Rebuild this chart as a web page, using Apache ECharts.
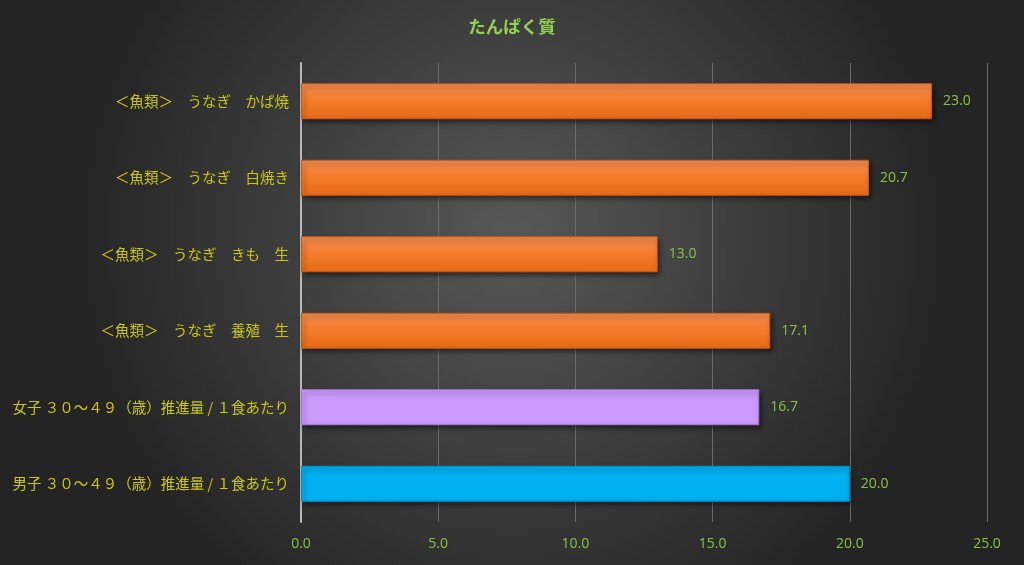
<!DOCTYPE html>
<html><head><meta charset="utf-8">
<script src="https://cdn.jsdelivr.net/npm/echarts@6/dist/echarts.min.js"></script>
<style>html,body{margin:0;padding:0;background:#333}#c{width:1024px;height:565px}</style>
</head><body><div id="c"></div>
<script>
const title = 'たんぱく質';
const categories = [
  '＜魚類＞　うなぎ　かば焼',
  '＜魚類＞　うなぎ　白焼き',
  '＜魚類＞　うなぎ　きも　生',
  '＜魚類＞　うなぎ　養殖　生',
  '女子 ３０～４９（歳）推進量 / １食あたり',
  '男子 ３０～４９（歳）推進量 / １食あたり'
];
const values = [23.0, 20.7, 13.0, 17.1, 16.7, 20.0];
const barKinds = ['fish', 'fish', 'fish', 'fish', 'female', 'male'];
const xTicks = [0, 5, 10, 15, 20, 25];

const orange = new echarts.graphic.LinearGradient(0, 0, 0, 1, [
  {offset: 0, color: '#f28c52'}, {offset: 0.5, color: '#f47b28'}, {offset: 1, color: '#e66a18'}]);
const colorFor = {fish: orange, female: '#cc99ff', male: '#00b0f0'};
const borderFor = {fish: '#c85a14', female: '#a87ad8', male: '#0090c8'};

const chart = echarts.init(document.getElementById('c'));
chart.setOption({
  backgroundColor: new echarts.graphic.RadialGradient(0.5, 0.42, 0.78, [
    {offset: 0, color: '#585858'}, {offset: 1, color: '#242424'}]),
  title: {
    text: title, left: 'center', top: 13,
    textStyle: {color: '#92d050', fontSize: 17.5, fontWeight: 'bold', fontFamily: 'Noto Sans CJK JP'}
  },
  grid: {left: 301, right: 37, top: 63, bottom: 43},
  xAxis: {
    type: 'value', min: xTicks[0], max: xTicks[xTicks.length - 1], interval: 5,
    axisLine: {show: false}, axisTick: {show: false},
    splitLine: {show: true, lineStyle: {color: '#6a6a6a', width: 1}},
    axisLabel: {color: '#8cc043', fontSize: 14, fontFamily: 'Open Sans', margin: 15,
      formatter: v => v.toFixed(1)}
  },
  yAxis: {
    type: 'category', data: categories, inverse: true,
    axisLine: {show: true, lineStyle: {color: '#b8b8b8', width: 2}},
    axisTick: {show: false},
    axisLabel: {color: '#c8c814', fontSize: 14.5, fontFamily: 'Noto Sans CJK JP', margin: 12}
  },
  series: [{
    type: 'bar', barWidth: 36,
    data: values.map((v, i) => ({
      value: v,
      itemStyle: {color: colorFor[barKinds[i]], borderColor: borderFor[barKinds[i]], borderWidth: 1,
        shadowColor: 'rgba(0,0,0,0.55)', shadowBlur: 5, shadowOffsetX: 2, shadowOffsetY: 3}
    })),
    label: {show: true, position: 'right', distance: 11, color: '#8cc043', fontSize: 14,
      fontFamily: 'Open Sans', formatter: p => p.value.toFixed(1)}
  }]
});
</script></body></html>
